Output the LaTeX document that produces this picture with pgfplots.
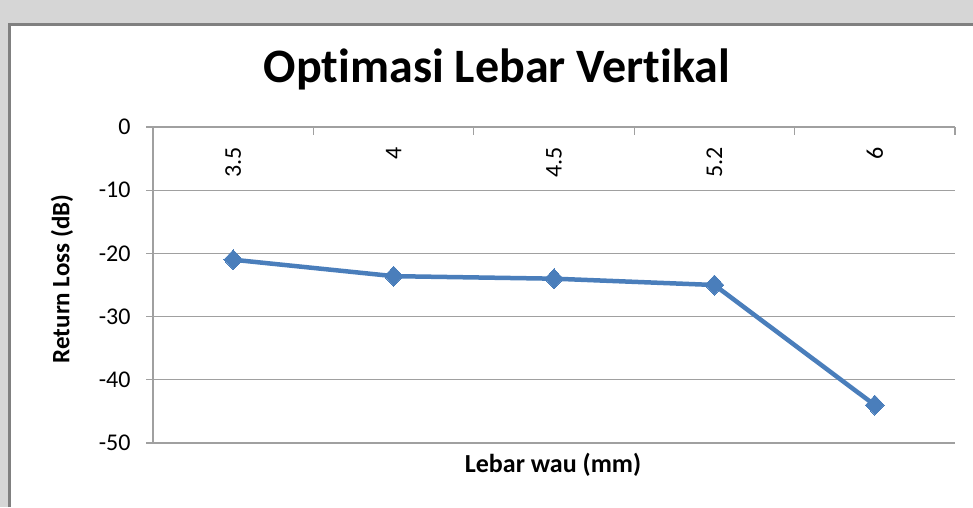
\documentclass[border=0pt]{standalone}
\usepackage{pgfplots}
\pgfplotsset{compat=1.18}
\usepackage{fontspec}
\setmainfont{Carlito}[Ligatures=NoCommon]
\definecolor{bgouter}{RGB}{214,214,214}
\definecolor{framec}{RGB}{128,128,128}
\definecolor{gridc}{RGB}{160,160,160}
\definecolor{lineblue}{RGB}{74,126,187}
\begin{document}
\begin{tikzpicture}[x=1pt,y=1pt]
\useasboundingbox (0,0) rectangle (973,507);
\fill[bgouter] (0,0) rectangle (973,507);
\fill[white] (9,0) rectangle (973,482);
\draw[framec, line width=3pt] (9,0) -- (9,482) -- (973,482);
\node[anchor=base, font=\bfseries\fontsize{48}{52}\selectfont] at (497,424) {Optimasi Lebar Vertikal};
\begin{axis}[
  at={(153pt,64pt)}, anchor=south west,
  width=802pt, height=316pt, scale only axis,
  xmin=-0.5, xmax=4.5, ymin=-50, ymax=0,
  axis x line*=top, axis y line*=left,
  axis line style={gridc, line width=1.2pt},
  xtick={0,1,2,3,4},
  xticklabels={3.5,4,4.5,5.2,6},
  minor xtick={-0.5,0.5,1.5,2.5,3.5,4.5},
  major x tick style={draw=none},
  minor x tick style={gridc, line width=1.2pt, yshift=-8pt},
  minor tick length=8pt,
  tick align=outside,
  ytick={-50,-40,-30,-20,-10,0},
  yticklabels={-50,-40,-30,-20,-10,0},
  major y tick style={gridc, line width=1.2pt},
  major tick length=7pt,
  ymajorgrids, grid style={gridc, line width=1.2pt},
  xticklabel style={rotate=90, anchor=east, xshift=-24pt, yshift=0pt, font=\fontsize{24}{28}\selectfont},
  yticklabel style={font=\fontsize{24}{28}\selectfont, anchor=east, xshift=-12pt},
  clip=false,
]
\addplot[lineblue, line width=4.5pt, mark=diamond*, mark size=10pt, mark options={fill=lineblue, draw=lineblue, line width=0pt, xscale=1.25}]
  coordinates {(0,-21.0) (1,-23.6) (2,-24.0) (3,-25.0) (4,-44.0)};
\end{axis}
\node[rotate=90, font=\bfseries\fontsize{25}{30}\selectfont] at (62,228) {Return Loss (dB)};
\node[anchor=base, font=\bfseries\fontsize{26}{30}\selectfont] at (553,35) {Lebar wau (mm)};
\end{tikzpicture}
\end{document}
